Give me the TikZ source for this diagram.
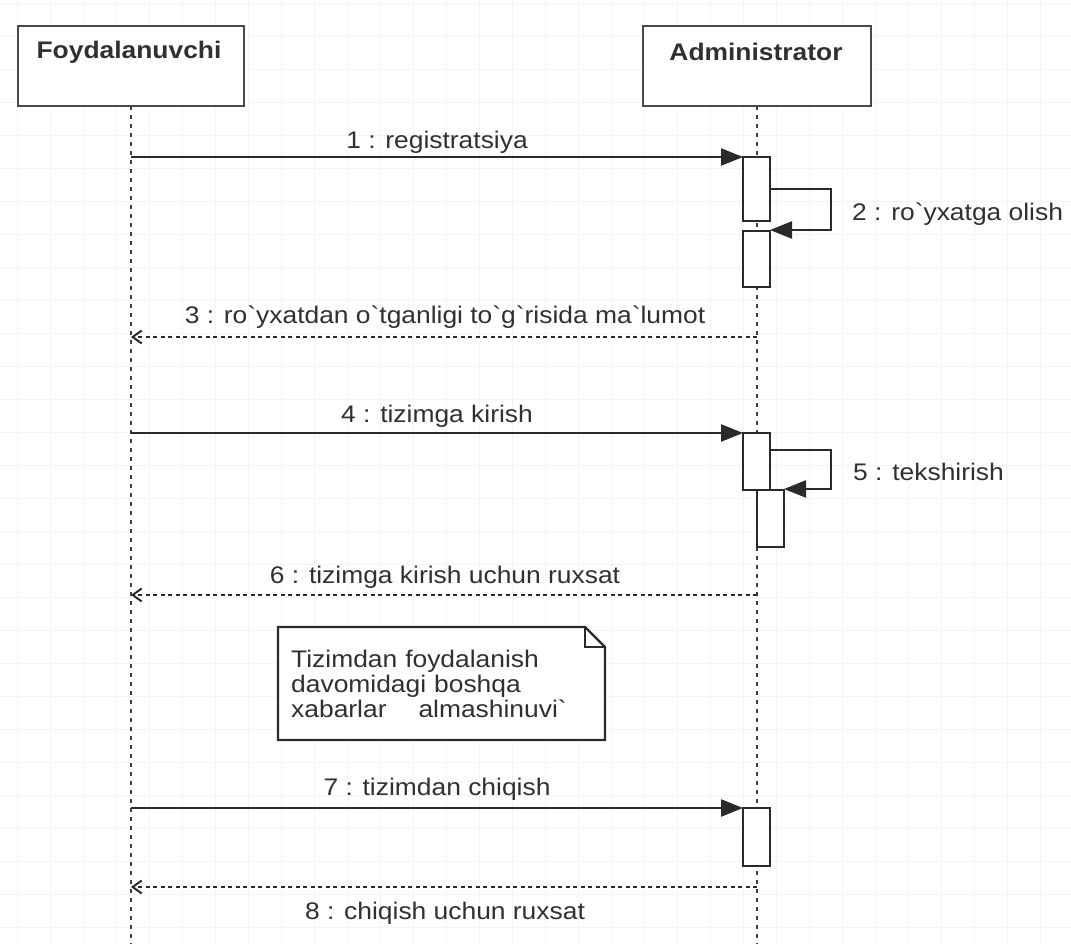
\documentclass[tikz,border=0pt]{standalone}
\usepackage{fontspec}
\setmainfont{Liberation Sans}[Ligatures=TeXOff, FakeStretch=1.1]
\usetikzlibrary{arrows.meta}
\definecolor{ln}{HTML}{2A2A2A}
\definecolor{tx}{HTML}{303030}
\definecolor{gridc}{HTML}{F4F4F4}
\begin{document}
\begin{tikzpicture}[x=1pt,y=-1pt,
  gridline/.style={draw=gridc, line width=0.8pt},
  headbox/.style={draw=ln!85, line width=2.6pt, fill=white, minimum width=226pt, minimum height=80pt, inner sep=0pt, outer sep=0pt},
  headtxt/.style={text=tx, font=\fontsize{24}{25}\selectfont\bfseries, inner sep=0pt},
  lifeline/.style={draw=ln!90, line width=2pt, dash pattern=on 4pt off 5pt},
  actbox/.style={draw=ln, fill=white, line width=2.2pt, minimum width=27pt, inner sep=0pt, outer sep=0pt},
  msg/.style={draw=ln, line width=2.4pt, -{Triangle[length=22pt,width=17pt]}},
  ret/.style={draw=ln, line width=2pt, dash pattern=on 4pt off 3.5pt, -{Straight Barb[length=9pt,width=13pt,line width=2pt]}},
  lbl/.style={text=tx, font=\fontsize{24}{25}\selectfont, inner sep=0pt},
  notebox/.style={text=tx, font=\fontsize{24}{25}\selectfont, align=left, text width=301pt, inner xsep=13pt, inner ysep=0pt, minimum width=327pt, minimum height=113pt, anchor=north west},
  noteline/.style={draw=ln, line width=2.2pt, fill=white, line join=miter}
]
\useasboundingbox (0,0) rectangle (1071,944);
\fill[white] (0,0) rectangle (1071,944);
% background grid
\foreach \x in {17,50,...,1071} \draw[gridline] (\x,0) -- (\x,944);
\foreach \y in {3,36,...,944} \draw[gridline] (0,\y) -- (1071,\y);

% lifeline heads
\node[headbox] (user) at (131,66) {};
\node[headtxt] (usert) at (129,52) {Foydalanuvchi};
\node[headbox, minimum width=228pt] (admin) at (757,66) {};
\node[headtxt] (admint) at (756,52) {Administrator};

% lifelines
\coordinate (userend) at (131,944);
\coordinate (adminend) at (757,944);
\draw[lifeline] (user.south) -- (userend);
\draw[lifeline] (admin.south) -- (adminend);

% activation boxes
\node[actbox, minimum height=64pt] (a1) at (756.5,189) {};
\node[actbox, minimum height=56pt] (a2) at (756.5,259) {};
\node[actbox, minimum height=57pt] (a3) at (756.5,461.5) {};
\node[actbox, minimum height=57pt] (a4) at (770.5,518.5) {};
\node[actbox, minimum height=58pt] (a5) at (756.5,837) {};

% message 1
\coordinate (m1s) at (131,157);
\draw[msg] (m1s) -- (a1.north west);
\node[lbl] (l1) at (437,142) {1 : registratsiya};

% message 2 (self)
\draw[msg] (a1.east) -- ++(61,0) |- ([yshift=1pt]a2.north east);
\node[lbl, anchor=west] (l2) at (852,214) {2 : ro`yxatga olish};

% message 3 (return)
\coordinate (m3s) at (757,337);
\coordinate (m3e) at (131,337);
\draw[ret] (m3s) -- (m3e);
\node[lbl] (l3) at (445,317) {3 : ro`yxatdan o`tganligi to`g`risida ma`lumot};

% message 4
\coordinate (m4s) at (131,433);
\draw[msg] (m4s) -- (a3.north west);
\node[lbl] (l4) at (437,416) {4 : tizimga kirish};

% message 5 (self)
\coordinate (s5) at (770,450);
\draw[msg] (s5) -- ++(61,0) |- ([yshift=1pt]a4.north east);
\node[lbl, anchor=west] (l5) at (853,472) {5 : tekshirish};

% message 6 (return)
\coordinate (m6s) at (757,595);
\coordinate (m6e) at (131,595);
\draw[ret] (m6s) -- (m6e);
\node[lbl] (l6) at (445,577) {6 : tizimga kirish uchun ruxsat};

% note
\path (278,627) coordinate (nnw) ++(327,113) coordinate (nse);
\coordinate (nne) at (nse |- nnw);
\coordinate (nsw) at (nnw |- nse);
\draw[noteline] (nnw) -- ([xshift=-20pt]nne) -- ([yshift=-20pt]nne) -- (nse) -- (nsw) -- cycle;
\draw[draw=ln, line width=1.8pt] ([xshift=-20pt]nne) |- ([yshift=-20pt]nne);
\node[notebox] (note) at (nnw) {Tizimdan foydalanish\\davomidagi boshqa\\xabarlar\ \ \ \ almashinuvi`};

% message 7
\coordinate (m7s) at (131,808);
\draw[msg] (m7s) -- (a5.north west);
\node[lbl] (l7) at (437,789) {7 : tizimdan chiqish};

% message 8 (return)
\coordinate (m8s) at (757,887);
\coordinate (m8e) at (131,887);
\draw[ret] (m8s) -- (m8e);
\node[lbl] (l8) at (445,913) {8 : chiqish uchun ruxsat};
\end{tikzpicture}
\end{document}
